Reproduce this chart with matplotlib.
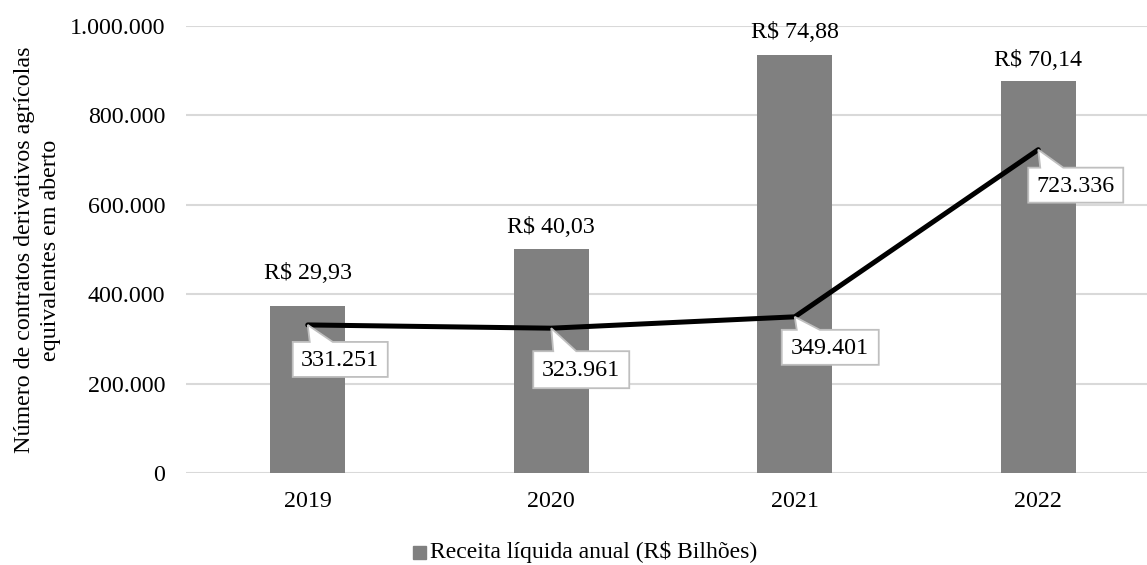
import matplotlib
matplotlib.use("Agg")
import matplotlib.pyplot as plt
import matplotlib.transforms as mtransforms
from matplotlib.patches import Polygon, Rectangle
from matplotlib.ticker import FuncFormatter

years = ["2019", "2020", "2021", "2022"]
receita = [29.93, 40.03, 74.88, 70.14]          # R$ bilhões (barras)
contratos = [331251, 323961, 349401, 723336]    # contratos em aberto (linha)

plt.rcParams["font.family"] = ["Liberation Serif", "DejaVu Serif"]
FS = 17.3

W, H = 1147, 565
fig = plt.figure(figsize=(W / 100, H / 100), dpi=100)
left_px, right_px, top_px, bot_px = 186, 1147, 26, 473
ax = fig.add_axes([left_px / W, 1 - bot_px / H,
                   (right_px - left_px) / W, (bot_px - top_px) / H])
cat_w = 243.5
x = list(range(len(years)))

# Eixo secundário (oculto) para a receita
ax2 = ax.twinx()
ax.set_zorder(ax2.get_zorder() + 1)
ax.patch.set_visible(False)

ax2.bar(x, receita, width=0.31, color="#808080", zorder=2)
ax2.set_ylim(0, 80)
ax2.set_yticks([])
for s in ax2.spines.values():
    s.set_visible(False)

# linhas de grade atrás das barras
for gy in range(0, 1_000_001, 200_000):
    ax2.axhline(gy / 1_000_000 * 80, color="#d9d9d9", lw=1.5, zorder=1)


def brl(v):
    return "R$ " + f"{v:.2f}".replace(".", ",")


# distância (px) entre o topo da barra e o centro do rótulo
label_lift = [32, 22, 22, 21]
for xi, v, lift in zip(x, receita, label_lift):
    ax2.annotate(brl(v), (xi, v), xytext=(0, lift * 0.72), textcoords="offset points",
                 ha="center", va="center", fontsize=FS)

# Linha de contratos
ax.plot(x, contratos, color="black", lw=3.6, solid_capstyle="round",
        solid_joinstyle="round", zorder=3)
ax.set_ylim(0, 1_000_000)
ax.set_xlim(-0.5, -0.5 + (right_px - left_px) / cat_w)
ax.set_yticks(range(0, 1_000_001, 200_000))
ax.yaxis.set_major_formatter(FuncFormatter(lambda v, p: f"{int(v):,}".replace(",", ".")))
ax.set_xticks(x)
ax.set_xticklabels(years)
ax.tick_params(axis="both", length=0, labelsize=FS)
ax.tick_params(axis="x", pad=13)
ax.tick_params(axis="y", pad=15)
for s in ax.spines.values():
    s.set_visible(False)

fig.text(37.5 / W, 1 - 250 / H, "Número de contratos derivativos agrícolas\nequivalentes em aberto",
         rotation=90, ha="center", va="center", fontsize=FS, linespacing=1.3,
         multialignment="center")

# Caixas com os valores da linha (pixels relativos ao ponto):
# x esquerda, x direita, y topo, y base, início e fim da ponta
callouts = [
    (-15, 80, -17, -52, 0, 25),
    (-18, 78, -23, -60, 0, 25),
    (-13, 84, -13, -48, 0, 25),
    (-10, 85, -18, -53, 0, 25),
]


def fmt_int(v):
    return f"{v:,}".replace(",", ".")


for xi, v, (bx0, bx1, by1, by0, p0, p1) in zip(x, contratos, callouts):
    trans = mtransforms.Affine2D() + mtransforms.ScaledTranslation(xi, v, ax.transData)
    verts = [(bx0, by1), (p0 + 2, by1), (0, 0), (p1, by1), (bx1, by1),
             (bx1, by0), (bx0, by0)]
    poly = Polygon(verts, closed=True, facecolor="white", edgecolor="#bfbfbf",
                   lw=1.3, transform=trans, zorder=4, clip_on=False)
    ax.add_patch(poly)
    ax.text((bx0 + bx1) / 2, (by0 + by1) / 2 - 1, fmt_int(v), transform=trans,
            ha="center", va="center", fontsize=FS, zorder=5)

# Legenda
fig.patches.append(Rectangle((413 / W, 1 - 559 / H), 13 / W, 13 / H,
                             transform=fig.transFigure, color="#808080"))
fig.text(430 / W, 1 - 552 / H, "Receita líquida anual (R$ Bilhões)",
         ha="left", va="center", fontsize=FS - 0.3)

fig.savefig("out.png", dpi=100)
